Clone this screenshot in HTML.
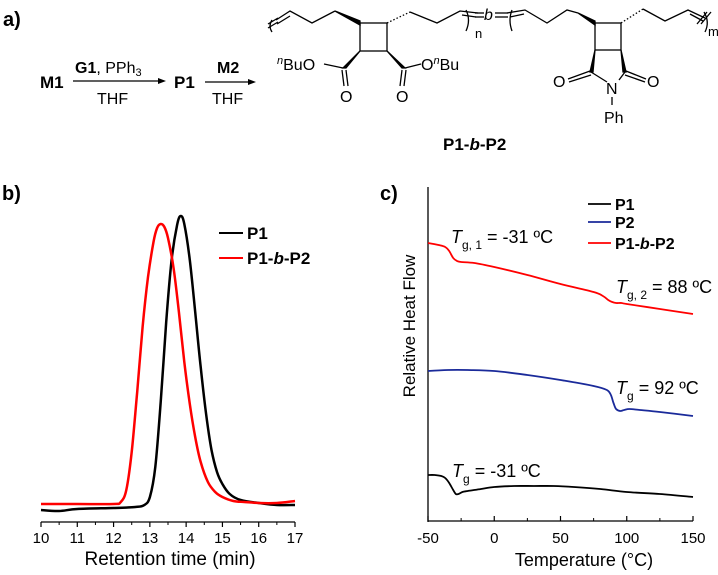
<!DOCTYPE html>
<html><head><meta charset="utf-8"><style>
body{margin:0;background:#fff;width:718px;height:570px;overflow:hidden}
svg text{font-family:"Liberation Sans",Arial,sans-serif}
</style></head><body>
<svg width="718" height="570" viewBox="0 0 718 570">
<g stroke="#000" stroke-width="1.3" fill="none">
<text x="3" y="26" font-size="20" font-weight="bold" fill="#000" stroke="none">a)</text>
<text x="40" y="88" font-size="17" font-weight="bold" fill="#000" stroke="none">M1</text>
<line x1="73" y1="81" x2="160" y2="81"/><path d="M158,78 L166,81 L158,84Z" fill="#000" stroke="none"/>
<text x="75" y="73" font-size="16" fill="#000" stroke="none"><tspan font-weight="bold">G1</tspan>, PPh<tspan font-size="11" dy="3">3</tspan></text>
<text x="97" y="104" font-size="16" fill="#000" stroke="none">THF</text>
<text x="174" y="88" font-size="17" font-weight="bold" fill="#000" stroke="none">P1</text>
<line x1="205" y1="82" x2="250" y2="82"/><path d="M248,79 L256,82 L248,85Z" fill="#000" stroke="none"/>
<text x="217" y="73" font-size="16" font-weight="bold" fill="#000" stroke="none">M2</text>
<text x="212" y="104" font-size="16" fill="#000" stroke="none">THF</text>
<!-- left unit -->
<path d="M272,20 Q268,26 272,32"/>
<line x1="268" y1="24" x2="278" y2="18"/><line x1="268" y1="28" x2="278" y2="22"/>
<path d="M276,20 L290,11 L312,23 L335,11"/>
<line x1="277" y1="24" x2="290" y2="16"/>
<path d="M335,11 L360,21 L360,25Z" fill="#000"/>
<rect x="360" y="23" width="27" height="28"/>
<path d="M360,51 L343,68 L346,68Z" fill="#000"/>
<line x1="343" y1="68" x2="324" y2="64"/>
<line x1="342" y1="70" x2="344" y2="86"/><line x1="346" y1="70" x2="348" y2="86"/>
<text x="277" y="70" font-size="16" fill="#000" stroke="none"><tspan font-size="11" font-style="italic" dy="-6">n</tspan><tspan dy="6">BuO</tspan></text>
<text x="340" y="102" font-size="16" fill="#000" stroke="none">O</text>
<path d="M387,51 L405,68 L402,68Z" fill="#000"/>
<line x1="405" y1="68" x2="421" y2="64"/>
<line x1="402" y1="70" x2="400" y2="86"/><line x1="406" y1="70" x2="404" y2="86"/>
<text x="396" y="102" font-size="16" fill="#000" stroke="none">O</text>
<text x="421" y="70" font-size="16" fill="#000" stroke="none">O<tspan font-size="11" font-style="italic" dy="-6">n</tspan><tspan dy="6">Bu</tspan></text>
<path d="M387,23 L410,12" stroke-dasharray="1.5,2"/>
<path d="M410,12 L437,23 L460,11 L478,13"/>
<line x1="462" y1="15" x2="476" y2="17"/>
<path d="M466,10 Q471,20 466,31"/>
<text x="475" y="38" font-size="13" fill="#000" stroke="none">n</text>
<line x1="475" y1="13" x2="484" y2="13"/><line x1="475" y1="17" x2="484" y2="17"/>
<text x="484" y="20" font-size="16" font-style="italic" fill="#000" stroke="none">b</text>
<line x1="495" y1="13" x2="508" y2="13"/><line x1="495" y1="17" x2="508" y2="17"/>
<!-- right unit -->
<path d="M512,10 Q508,20 512,31"/>
<path d="M507,13 L525,10 L547,23 L567,10 L578,13"/>
<line x1="510" y1="17" x2="524" y2="14"/>
<path d="M578,13 L595,21 L595,25Z" fill="#000"/>
<rect x="595" y="23" width="26" height="27"/>
<path d="M621,23 L643,9" stroke-dasharray="1.5,2"/>
<path d="M643,9 L665,21 L688,10 L705,18"/>
<line x1="690" y1="14" x2="703" y2="21"/>
<line x1="697" y1="24" x2="707" y2="12"/><line x1="701" y1="24" x2="711" y2="12"/>
<path d="M704,12 Q710,22 705,32"/>
<text x="708" y="36" font-size="13" fill="#000" stroke="none">m</text>
<path d="M595,50 L590,72 L593,72Z" fill="#000"/>
<path d="M621,50 L626,72 L623,72Z" fill="#000"/>
<line x1="591" y1="72" x2="607" y2="82"/><line x1="625" y1="72" x2="619" y2="80"/>
<line x1="590" y1="71" x2="568" y2="79"/><line x1="591" y1="75" x2="569" y2="82"/>
<line x1="626" y1="71" x2="646" y2="79"/><line x1="625" y1="75" x2="645" y2="82"/>
<text x="553" y="87" font-size="16" fill="#000" stroke="none">O</text>
<text x="647" y="87" font-size="16" fill="#000" stroke="none">O</text>
<text x="606" y="94" font-size="16" fill="#000" stroke="none">N</text>
<line x1="612" y1="97" x2="612" y2="105"/>
<text x="604" y="123" font-size="16" fill="#000" stroke="none">Ph</text>
<text x="443" y="150" font-size="17" font-weight="bold" fill="#000" stroke="none">P1-<tspan font-style="italic">b</tspan>-P2</text>
</g>

<g id="gpc"></g>
<g id="dsc"></g>
</svg>
<script>
const NS="http://www.w3.org/2000/svg";
// GPC data
const gpcTicks=[10,11,12,13,14,15,16,17];
const gpcP1X=[10,10.5,11,12,12.6,12.85,13.0,13.15,13.3,13.45,13.6,13.75,13.85,13.95,14.1,14.25,14.4,14.55,14.7,14.85,15.0,15.2,15.5,16,16.5,17];
const gpcP1Y=[12,11,13,14,15,17,25,55,120,200,262,297,306,298,262,210,155,108,72,50,38,28,22,19,17,17];
const gpcP2X=[10,11,12,12.2,12.35,12.5,12.65,12.8,12.95,13.1,13.2,13.3,13.4,13.5,13.65,13.8,13.95,14.1,14.25,14.4,14.6,14.8,15.0,15.3,15.6,16,16.5,17];
const gpcP2Y=[18,18,18,20,32,70,130,195,245,280,294,298,295,284,255,210,160,118,85,60,40,30,25,21,20,19,19,21];
// DSC data
const dscTicks=[-50,0,50,100,150];
const dscBX=[-50,-45,-40,-37,-34,-31,-29,-27,-24,-20,-10,0,15,30,45,60,80,100,125,150];
const dscBY=[46,46,45,43,38,31,27,27,29,30,32,34,35,35,35,34,32,29,27,24];
const dscBlueX=[-50,-35,-20,0,25,50,75,85,88,90,92,95,98,102,110,125,150];
const dscBlueY=[150,151,151,150,146,141,135,131,126,118,112,110,111,112,111,109,105];
const dscRedX=[-50,-42,-37,-34,-31,-28,-25,-15,0,25,50,75,82,86,89,92,96,100,125,150];
const dscRedY=[278,276,274,270,263,260,259,258,254,246,237,229,225,221,219,218,218,217,212,207];

function el(t,a,p){const e=document.createElementNS(NS,t);for(const k in a)e.setAttribute(k,a[k]);p.appendChild(e);return e;}
function path(xs,ys,sx,sy){
  const P=xs.map((x,i)=>[sx(x),sy(ys[i])]);
  let d='M'+P[0][0].toFixed(1)+','+P[0][1].toFixed(1);
  for(let i=0;i<P.length-1;i++){
    const p0=P[Math.max(0,i-1)],p1=P[i],p2=P[i+1],p3=P[Math.min(P.length-1,i+2)];
    const c1=[p1[0]+(p2[0]-p0[0])/6,p1[1]+(p2[1]-p0[1])/6];
    const c2=[p2[0]-(p3[0]-p1[0])/6,p2[1]-(p3[1]-p1[1])/6];
    d+=' C'+c1[0].toFixed(1)+','+c1[1].toFixed(1)+' '+c2[0].toFixed(1)+','+c2[1].toFixed(1)+' '+p2[0].toFixed(1)+','+p2[1].toFixed(1);
  }
  return d;
}

// GPC chart
const g=document.getElementById('gpc');
const gx=v=>41+(v-10)*(254/7), gy=v=>522-v;
let t=el('text',{x:2,y:200,'font-size':20,'font-weight':'bold'},g);t.textContent='b)';


let ax=el('line',{x1:41,y1:522,x2:295,y2:522,stroke:'#000','stroke-width':1.3},g);


gpcTicks.forEach((v,i)=>{
 el('line',{x1:gx(v),y1:522,x2:gx(v),y2:527,stroke:'#000','stroke-width':1.2},g);
 if(i<gpcTicks.length-1) el('line',{x1:gx(v+0.5),y1:522,x2:gx(v+0.5),y2:525,stroke:'#000','stroke-width':1},g);
 const tl=el('text',{x:gx(v),y:543,'font-size':15,'text-anchor':'middle'},g);tl.textContent=v;
 
 
});
t=el('text',{x:170,y:565,'font-size':19,'text-anchor':'middle'},g);t.textContent='Retention time (min)';


let s=el('path',{d:path(gpcP1X,gpcP1Y,gx,gy),fill:'none',stroke:'#000','stroke-width':2.5,'stroke-linejoin':'round'},g);


s=el('path',{d:path(gpcP2X,gpcP2Y,gx,gy),fill:'none',stroke:'#f00','stroke-width':2.5,'stroke-linejoin':'round'},g);


el('line',{x1:219,y1:233,x2:243,y2:233,stroke:'#000','stroke-width':2},g);
t=el('text',{x:247,y:239,'font-size':17,'font-weight':'bold'},g);t.textContent='P1';


el('line',{x1:219,y1:258,x2:243,y2:258,stroke:'#f00','stroke-width':2},g);
t=el('text',{x:247,y:264,'font-size':17,'font-weight':'bold'},g);t.innerHTML='P1-<tspan font-style="italic">b</tspan>-P2';



// DSC chart
const d=document.getElementById('dsc');
const dx=v=>428+(v+50)*(265/200), dy=v=>521-v;
t=el('text',{x:380,y:200,'font-size':20,'font-weight':'bold'},d);t.textContent='c)';


el('line',{x1:428,y1:187,x2:428,y2:522,stroke:'#000','stroke-width':1.3},d);
ax=el('line',{x1:428,y1:521,x2:693,y2:521,stroke:'#000','stroke-width':1.3},d);


dscTicks.forEach((v,i)=>{
 el('line',{x1:dx(v),y1:521,x2:dx(v),y2:516,stroke:'#000','stroke-width':1.2},d);
 if(i<dscTicks.length-1) el('line',{x1:dx(v+25),y1:521,x2:dx(v+25),y2:518,stroke:'#000','stroke-width':1},d);
 const tl=el('text',{x:dx(v),y:543,'font-size':15,'text-anchor':'middle'},d);tl.textContent=v;
 
 
});
t=el('text',{x:584,y:566,'font-size':18,'text-anchor':'middle'},d);t.textContent='Temperature (°C)';


t=el('text',{x:0,y:0,'font-size':17,'text-anchor':'middle',transform:'translate(415,326) rotate(-90)'},d);t.textContent='Relative Heat Flow';


s=el('path',{d:path(dscRedX,dscRedY,dx,dy),fill:'none',stroke:'#f00','stroke-width':1.8,'stroke-linejoin':'round'},d);


s=el('path',{d:path(dscBlueX,dscBlueY,dx,dy),fill:'none',stroke:'#1a2a9a','stroke-width':1.8,'stroke-linejoin':'round'},d);


s=el('path',{d:path(dscBX,dscBY,dx,dy),fill:'none',stroke:'#000','stroke-width':1.8,'stroke-linejoin':'round'},d);


const leg=[['#000','P1',204],['#1a2a9a','P2',222],['#f00','P1-<tspan font-style="italic">b</tspan>-P2',243]];
leg.forEach(l=>{
 el('line',{x1:588,y1:l[2],x2:611,y2:l[2],stroke:l[0],'stroke-width':1.8},d);
 const lt=el('text',{x:615,y:l[2]+6,'font-size':16,'font-weight':'bold'},d);lt.innerHTML=l[1];
 
 
});
const ann=[[451,243,'g, 1',' = -31 ºC'],[616,293,'g, 2',' = 88 ºC'],[616,394,'g',' = 92 ºC'],[452,477,'g',' = -31 ºC']];
ann.forEach(a=>{
 const at=el('text',{x:a[0],y:a[1],'font-size':18},d);
 at.innerHTML='<tspan font-style="italic">T</tspan><tspan font-size="12" dy="6">'+a[2]+'</tspan><tspan dy="-6">'+a[3]+'</tspan>';
 
 
});
</script>
</body></html>
